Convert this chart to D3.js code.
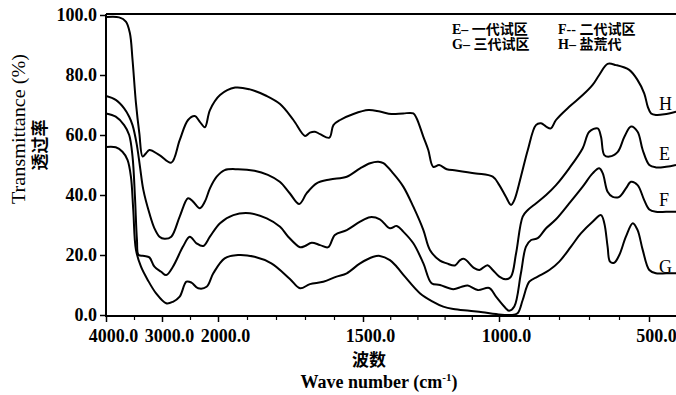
<!DOCTYPE html>
<html>
<head>
<meta charset="utf-8">
<script src="https://cdn.jsdelivr.net/npm/d3@7/dist/d3.min.js"></script>
<style>
  body { margin: 0; background: #fff; }
  svg { display: block; }
</style>
</head>
<body>
<div id="chart"></div>
<script>
// FTIR spectra, [wavenumber cm-1, transmittance %]
const seriesH = [[4000,99.3],[3766,99.2],[3645,97.8],[3573,93.9],[3526,85],[3465,70.6],[3405,60.6],[3346,52.8],[3285,53.9],[3225,55],[3045,53.3],[2834,50.8],[2684,58.3],[2535,65],[2414,66.3],[2324,64.4],[2234,62.6],[2144,68.3],[1993,73.3],[1941,75.8],[1890,75.2],[1832,73],[1786,70.3],[1740,65],[1700,59.7],[1683,60.8],[1666,61.1],[1648,60.3],[1616,59.1],[1602,63.3],[1579,65],[1533,67],[1480,68.3],[1438,67.8],[1395,67],[1352,67.2],[1315,67.2],[1303,65.6],[1278,59.4],[1260,55],[1242,49.4],[1220,50],[1192,48.6],[1158,48.2],[1085,47.2],[1023,46.1],[999,43.3],[977,39.4],[960,36.7],[949,38.3],[927,46.1],[904,55],[877,63.3],[860,63.9],[843,62.8],[827,62.2],[810,65],[766,69.4],[721,73.3],[688,76.7],[666,80],[638,83.7],[610,83.3],[566,81.7],[538,78.3],[516,73.9],[504,69.4],[493,67.2],[477,66.7],[449,66.9],[410,67.8]];
const seriesE = [[4000,73],[3826,71.7],[3676,68.9],[3586,66.1],[3526,63.3],[3454,57.2],[3393,49.4],[3333,41.7],[3225,33.9],[3135,28.9],[3045,26.1],[2955,25.4],[2834,26.1],[2684,32.8],[2535,38.9],[2445,37.8],[2324,35.6],[2234,37.8],[2144,42.2],[2023,46.1],[1977,48.3],[1931,48.6],[1874,48.1],[1828,46.7],[1787,44.4],[1752,40.5],[1720,37],[1694,40.6],[1660,43.9],[1614,45.2],[1556,46.1],[1510,48.9],[1474,50.6],[1444,51.1],[1425,50.6],[1389,47.2],[1352,42.8],[1315,36.1],[1278,28.3],[1254,21.7],[1217,18.1],[1192,17.2],[1162,16.5],[1143,18.3],[1128,18.7],[1091,15.6],[1072,15],[1042,16.6],[1023,15],[999,12.8],[977,11.9],[960,12.8],[943,20.6],[921,32.8],[904,35],[877,37.2],[843,40],[810,43.3],[766,48.9],[721,55.6],[699,61.1],[671,62.2],[660,59.4],[649,53.3],[632,52.8],[604,54.4],[582,59.4],[560,62.8],[538,61.1],[521,55],[499,50],[477,49.2],[443,49.4],[410,50]];
const seriesF = [[4000,67.2],[3826,66.1],[3676,63.3],[3586,60],[3526,52.8],[3483,39.4],[3447,25],[3418,20],[3315,19.7],[3225,19.2],[3135,16.1],[3015,14.4],[2925,13.3],[2805,16.1],[2625,22.8],[2504,26.1],[2384,23.9],[2264,23],[2144,26.1],[1993,30.6],[1947,33.3],[1890,33.9],[1832,32.2],[1786,29.4],[1758,26.1],[1717,22.6],[1700,23],[1677,24.1],[1648,23.3],[1620,22.6],[1597,26.7],[1556,28.3],[1510,31.1],[1474,32.6],[1438,31.9],[1401,28.9],[1376,29.7],[1352,27.8],[1315,23.9],[1278,17.2],[1248,10.6],[1217,10],[1168,8.6],[1137,9.4],[1115,9.8],[1078,8.3],[1036,9],[1011,6.1],[977,2.2],[966,1.4],[949,2.8],[927,13.9],[910,22.8],[893,25],[871,25.6],[843,28.9],[810,31.9],[766,37.2],[721,42.8],[688,47.2],[666,48.9],[654,47.2],[638,41.1],[621,39.4],[599,39.4],[577,42.2],[560,44.4],[538,43.3],[516,38.3],[499,35.2],[477,34.4],[443,34.4],[410,34.4]];
const seriesG = [[4000,56],[3826,55.9],[3706,54.4],[3616,51.7],[3555,46.1],[3513,35],[3465,21.7],[3375,16.1],[3255,11.7],[3105,7.2],[2925,3.9],[2805,4.4],[2684,6.1],[2564,11.1],[2474,10.8],[2354,8.9],[2204,9.4],[2084,13.9],[1977,18.9],[1931,20],[1874,19.4],[1816,17.2],[1752,12],[1717,8.9],[1683,10.3],[1637,11.1],[1591,12.8],[1556,13.9],[1510,17.2],[1462,19.4],[1438,19.7],[1401,18.3],[1376,16.1],[1346,12.8],[1290,7.2],[1242,4.4],[1205,2.8],[1168,2],[1109,1.4],[1060,0.9],[1011,0.3],[960,0],[938,0.6],[921,5],[899,11.1],[871,12.8],[832,15],[799,17.8],[760,22.8],[727,27.2],[688,31.1],[660,33.3],[649,30.6],[638,22.8],[630,17.8],[616,17.4],[599,20],[577,26.1],[554,30.6],[538,28.3],[521,21.7],[499,15],[477,13.9],[443,13.9],[410,13.9]];

const seriesNames = ["H", "E", "F", "G"];
const legendLabels = ["E– 一代试区", "F-- 二代试区", "G– 三代试区", "H– 盐荒代"];
const xMajorTicks = [4000, 3000, 2000, 1500, 1000, 500];
const xMinorTicks = [3500, 2500, 1900, 1800, 1700, 1600, 1400, 1300, 1200, 1100, 900, 800, 700, 600];
const yTicks = [0, 20, 40, 60, 80, 100];

const width = 676, height = 395;
const serif = "'Liberation Serif', 'Times New Roman', serif";

const svg = d3.select("#chart").append("svg")
    .attr("width", width)
    .attr("height", height)
    .style("background", "#fff");

// wavenumber axis is split: 4000-2000 compressed, below 2000 expanded
const x = d3.scaleLinear()
    .domain([4000, 2000, 1500, 1000, 500, 400])
    .range([106, 218, 363, 499, 649, 679]);
const y = d3.scaleLinear().domain([0, 100]).range([315, 15]);

svg.append("defs").append("clipPath").attr("id", "plot")
  .append("rect").attr("x", 106).attr("y", 0).attr("width", 570).attr("height", 318);

// top frame line
svg.append("line")
    .attr("x1", 106).attr("x2", 676)
    .attr("y1", 14).attr("y2", 14)
    .attr("stroke", "#000").attr("stroke-width", 2);

// x axis
const gx = svg.append("g")
    .attr("transform", "translate(0,316)")
    .call(d3.axisBottom(x).tickValues(xMajorTicks).tickSize(6).tickSizeOuter(0)
      .tickFormat(d => d.toFixed(1)));
gx.select(".domain").attr("stroke-width", 2).attr("d", "M106,0H676");
gx.selectAll(".tick line").attr("stroke-width", 1.5);
gx.selectAll(".tick text")
    .attr("y", 26).attr("dy", 0).attr("dx", 7)
    .style("font-family", serif).style("font-size", "18px").style("font-weight", "bold");

svg.append("g")
    .attr("transform", "translate(0,316)")
    .call(d3.axisBottom(x).tickValues(xMinorTicks).tickSize(4).tickFormat(""))
    .call(g => g.select(".domain").remove())
    .selectAll(".tick line").attr("stroke-width", 1.2);

// y axis
const gy = svg.append("g")
    .attr("transform", "translate(106,0)")
    .call(d3.axisLeft(y).tickValues(yTicks).tickSize(6).tickSizeOuter(0)
      .tickFormat(d => d.toFixed(1)));
gy.select(".domain").attr("stroke-width", 2).attr("d", "M0,14V317");
gy.selectAll(".tick line").attr("stroke-width", 1.5);
gy.selectAll(".tick text")
    .style("font-family", serif).style("font-size", "18px").style("font-weight", "bold");

// curves
const allSeries = { H: seriesH, E: seriesE, F: seriesF, G: seriesG };
const line = d3.line()
    .x(d => x(d[0]))
    .y(d => y(d[1]))
    .curve(d3.curveCatmullRom.alpha(0.5));

svg.append("g").attr("clip-path", "url(#plot)")
  .selectAll("path")
  .data(seriesNames)
  .join("path")
    .attr("d", k => line(allSeries[k]))
    .attr("fill", "none")
    .attr("stroke", "#000")
    .attr("stroke-width", 2)
    .attr("stroke-linejoin", "round");

// curve end labels
const endLabelY = { H: 110, E: 160, F: 206, G: 273 };
svg.append("g")
  .selectAll("text")
  .data(seriesNames)
  .join("text")
    .attr("x", 659)
    .attr("y", k => endLabelY[k])
    .style("font-family", serif)
    .style("font-size", "18px")
    .text(k => k);

// legend
const legendPos = [[452, 34], [558, 34], [452, 49], [558, 49]];
svg.append("g")
  .selectAll("text")
  .data(legendLabels)
  .join("text")
    .attr("x", (d, i) => legendPos[i][0])
    .attr("y", (d, i) => legendPos[i][1])
    .style("font-family", "'Liberation Serif', 'Noto Sans CJK SC', serif")
    .style("font-size", "14px")
    .style("font-weight", "bold")
    .text(d => d);

// axis titles
svg.append("text")
    .attr("transform", "translate(25,129) rotate(-90)")
    .attr("text-anchor", "middle")
    .attr("textLength", 150)
    .attr("lengthAdjust", "spacingAndGlyphs")
    .style("font-family", serif)
    .style("font-size", "19px")
    .text("Transmittance (%)");

svg.append("text")
    .attr("transform", "translate(46,145) rotate(-90)")
    .attr("text-anchor", "middle")
    .style("font-family", "'Noto Sans CJK SC', sans-serif")
    .style("font-size", "17px")
    .style("font-weight", "bold")
    .text("透过率");

svg.append("text")
    .attr("x", 369).attr("y", 366)
    .attr("text-anchor", "middle")
    .style("font-family", "'Noto Sans CJK SC', sans-serif")
    .style("font-size", "17px")
    .style("font-weight", "bold")
    .text("波数");

const xTitle = svg.append("text")
    .attr("x", 379).attr("y", 388)
    .attr("text-anchor", "middle")
    .style("font-family", serif)
    .style("font-size", "18px")
    .style("font-weight", "bold");
xTitle.append("tspan").text("Wave number (cm");
xTitle.append("tspan").attr("dy", -7).style("font-size", "11px").text("-1");
xTitle.append("tspan").attr("dy", 7).text(")");
</script>
</body>
</html>
